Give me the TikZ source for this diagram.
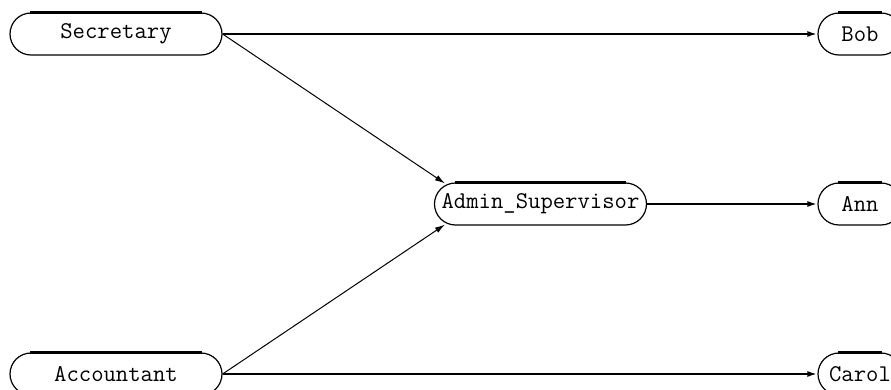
\documentclass[tikz,border=0pt]{standalone}
\usepackage{tikz}
\usetikzlibrary{arrows.meta}
\usetikzlibrary{calc}

\begin{document}
\begin{tikzpicture}[x=0.5pt,y=-0.5pt,
	font=\fontsize{12}{14}\selectfont\ttfamily,
	role/.style={draw,line width=0.6pt,rectangle,rounded corners=10.5pt,
		minimum height=21pt,inner sep=0pt},
	wide/.style={role,minimum width=106pt},
	narrow/.style={role,minimum width=42pt},
	flow/.style={line width=1pt,-{Latex[length=5pt,width=3pt]}},
	slant/.style={line width=0.5pt,-{Latex[length=5pt,width=3pt]}}]
	\useasboundingbox (0,0) rectangle (891,390);
	% left column
	\node[wide] (sec) at (116,34) {Secretary};
	\node[wide] (acc) at (116,374) {Accountant};
	% middle
	\node[wide] (adm) at (540.5,204) {Admin\_Supervisor};
	% right column
	\foreach \name/\who/\ypos in {bob/Bob/34, ann/Ann/204, car/Carol/374} {
		\node[narrow] (\name) at (860,\ypos) {\who};
	}
	% thick top edges
	\foreach \n in {sec,acc,adm,bob,ann,car} {
		\draw[line width=1.2pt] ($(\n.north west)+(10.5pt,0)$) -- ($(\n.north east)+(-10.5pt,0)$);
	}
	% connectors
	\draw[flow] (sec.east) -- (bob.west);
	\draw[flow] (adm.east) -- (ann.west);
	\draw[flow] (acc.east) -- (car.west);
	\draw[slant] (sec.east) -- ($(adm.north west)+(5.5pt,-0.5pt)$);
	\draw[slant] (acc.east) -- ($(adm.south west)+(5.5pt,0.5pt)$);
\end{tikzpicture}
\end{document}
